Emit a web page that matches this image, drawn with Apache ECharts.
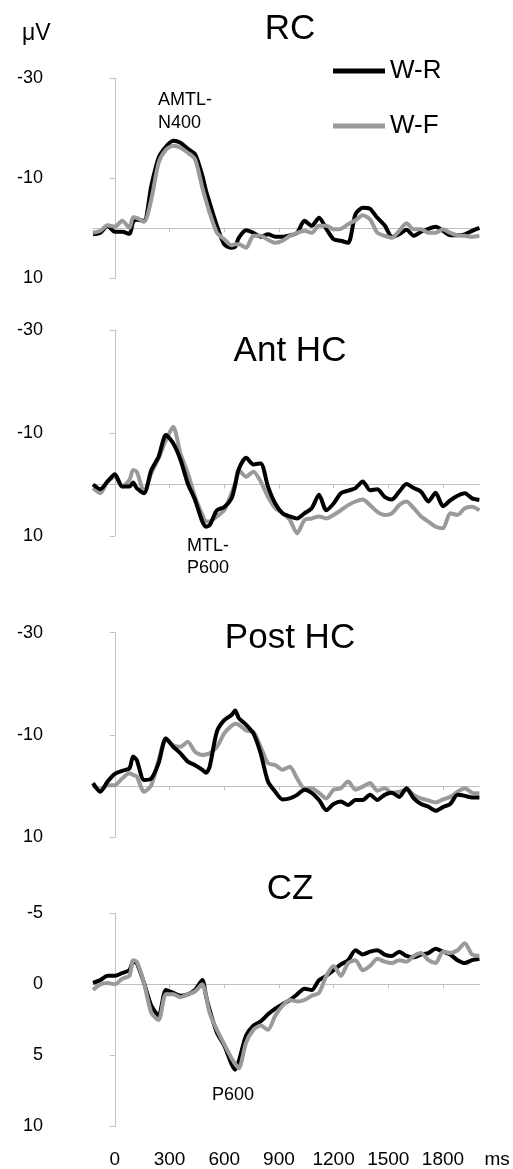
<!DOCTYPE html>
<html><head><meta charset="utf-8">
<script src="https://cdn.jsdelivr.net/npm/echarts@6/dist/echarts.min.js"></script>
<style>html,body{margin:0;padding:0;background:#fff}#c{width:513px;height:1169px}</style>
</head><body><div id="c"></div>
<script>
// ---- data ----
const times = [-120,-80,-40,0,40,80,100,120,160,200,240,280,320,360,400,440,480,500,520,560,600,640,660,680,720,760,800,840,880,920,960,1000,1040,1080,1120,1160,1200,1240,1280,1320,1360,1400,1440,1480,1520,1560,1600,1640,1680,1720,1760,1800,1840,1880,1920,1960,2000];
const seriesNames = ['W-R', 'W-F'];
const panelTitles = ['RC', 'Ant HC', 'Post HC', 'CZ'];

const rcWR = [1.2,0.9,-0.5,0.7, 0.7,1.1,-1.3,-1.7,-1.5,-8.5,-14.1,-16.3,-17.5,-17.1,-15.9, -14.8,-10.5,-7.5,-5.1,-0.5,3.2,3.9,3.7,1.9,0.4,0.9,1.7, 1.2,1.7,1.7,1.4,0.9,-1.5,-0.5,-2.1,0.1,2.2, 2.5,2.9,-2.8,-4.1,-3.9,-2.1,-0.6,1.7,1.2,0.3, 1.5,0.7,0.1,-0.3,0.5,1.4,1.4,1.2,0.5,-0.1];
const rcWF = [0.9,0.5,-0.6,-0.3, -1.5,-0.1,-2.2,-2.1,-1.3,-5.8,-13.1,-15.7,-16.5,-16.1,-15.1, -13.8,-8.1,-5.5,-3.1,0.9,2.2,3.4,3.2,3.2,3.9,1.5,1.5, 2.3,2.9,2.5,1.5,0.9,0.5,0.9,-0.5,-0.5,0.2, 0.1,-0.8,-1.6,-2.6,-1.8,0.9,1.5,1.9,0.5,-1.0, 0.2,0.2,0.9,0.9,0.2,0.9,1.4,1.5,1.7,1.5];

const antWR = [0,0.9,-0.6,-2.0, 0.4,0.4,-0.4,0.7,1.7,-2.8,-5.4,-9.6,-8.0,-4.8,-0.2, 3.0,7.2,8.2,7.9,5.0,4.4,2.7,0.1,-3.0,-5.2,-3.9,-4.1, 0.4,3.7,5.6,6.2,6.6,5.6,4.6,2.0,5.0,3.7, 1.7,1.2,0.7,-0.6,1.1,0.9,2.4,2.9,1.4,-0.1, 0.7,1.4,3.3,1.6,4.2,3.1,2.2,1.7,2.7,3.0];
const antWF = [0.7,1.7,-0.6,-1.5, 0.4,-0.9,-2.8,-2.5,1.4,-2.2,-5.1,-8.6,-11.2,-6.0,-2.2, 2.4,5.9,7.2,7.2,6.2,5.0,1.7,-0.2,-2.8,-1.5,-2.5,-0.6, 2.4,4.6,5.6,6.9,9.5,6.9,6.6,6.2,6.6,5.9, 5.0,4.0,3.3,2.9,4.0,5.3,5.9,5.6,4.0,3.3, 4.6,6.2,7.2,8.2,8.5,5.6,5.9,4.6,4.3,5.0];

const postWR = [-0.6,1.1,-0.9,-2.4, -3.0,-3.5,-5.8,-5.1,-1.2,-1.5,-4.5,-9.3,-7.7,-6.4,-4.8, -4.1,-3.2,-2.6,-3.8,-10.7,-12.9,-13.9,-14.8,-13.3,-12.0,-10.3,-6.4, -0.9,1.1,2.6,2.4,1.7,0.7,1.3,2.7,4.7,3.5, 3.0,3.7,2.7,2.7,1.7,2.7,1.7,1.3,2.1,0.4, 2.4,3.5,4.0,4.8,4.1,3.5,1.7,1.9,2.2,2.2];
const postWF = [-0.2,0.7,-0.2,-0.2, -1.5,-2.5,-2.2,-1.9,1.1,-0.2,-5.1,-9.3,-8.0,-7.7,-8.7, -6.7,-6.1,-6.2,-6.4,-7.7,-10.3,-11.8,-12.2,-12.0,-10.9,-10.6,-7.7, -4.5,-4.1,-3.2,-3.8,-1.5,0.4,0.4,1.3,2.4,0.7, 0.4,-0.9,0.7,0.1,-0.6,0.9,0.4,1.3,1.1,0.7, 1.7,2.4,2.8,3.2,2.6,2.1,1.1,0.4,1.3,1.4];

const czWR = [-0.1,-0.3,-0.6,-0.6, -0.8,-1.0,-1.6,-1.5,-0.1,1.5,2.2,0.4,0.6,0.8,0.7, 0.4,-0.3,0.8,1.8,3.4,4.3,5.6,6.0,5.4,3.6,2.9,2.6, 2.1,1.7,1.4,1.1,0.7,0.3,0.4,-0.3,-0.6,-1.0, -1.4,-1.7,-2.4,-2.1,-2.3,-2.4,-2.1,-2.0,-2.3,-2.0, -1.9,-2.1,-2.2,-2.5,-2.3,-2.1,-1.7,-1.5,-1.7,-1.8];
const czWF = [0.4,0,-0.1,0, -0.4,-0.6,-1.7,-1.6,-0.1,2.0,2.5,0.7,0.7,0.9,0.7, 0.5,0.0,0.8,2.0,3.2,4.2,5.2,5.6,5.9,4.1,3.2,2.9, 3.2,2.2,1.5,1.1,1.2,1.1,0.8,0.6,-0.6,-1.3, -0.6,-1.5,-1.7,-1.0,-1.3,-1.8,-1.6,-1.5,-1.7,-1.6, -2.0,-2.2,-1.7,-1.5,-2.3,-2.2,-2.4,-2.9,-2.1,-2.0];

const yTicksMTL = [-30, -10, 10];
const yTicksCZ = [-5, 0, 5, 10];
const xTicks = [0, 300, 600, 900, 1200, 1500, 1800];

// ---- layout ----
const FONT = 'Liberation Sans, Arial, sans-serif';
const BLACK = '#000000', GRAY = '#9a9a9a', AXIS = '#c0c0c0';
const panels = [
  {wr: rcWR, wf: rcWF, min: -30, max: 10, ticks: yTicksMTL, top: 78.3, height: 200, grayTop: true, titleY: 29},
  {wr: antWR, wf: antWF, min: -30, max: 10, ticks: yTicksMTL, top: 330, height: 206, grayTop: false, titleY: 351},
  {wr: postWR, wf: postWF, min: -30, max: 10, ticks: yTicksMTL, top: 632.7, height: 204.6, grayTop: false, titleY: 638},
  {wr: czWR, wf: czWF, min: -5, max: 10, ticks: yTicksCZ, top: 913.3, height: 214, grayTop: true, titleY: 889.5}
];

const grid = [], xAxis = [], yAxis = [], series = [], graphic = [];
panels.forEach((p, i) => {
  grid.push({left: 93, right: 33.6, top: p.top, height: p.height});
  xAxis.push({
    type: 'value', gridIndex: i, min: -120, max: 2000,
    axisLine: {show: true, onZero: true, lineStyle: {color: AXIS, width: 1}},
    axisTick: {show: true, customValues: xTicks, length: 4, lineStyle: {color: AXIS, width: 1}},
    axisLabel: {show: false}, splitLine: {show: false}
  });
  yAxis.push({
    type: 'value', gridIndex: i, inverse: true, min: p.min, max: p.max,
    axisLine: {show: true, onZero: true, lineStyle: {color: AXIS, width: 1}},
    axisTick: {show: true, customValues: p.ticks, length: 5, lineStyle: {color: AXIS, width: 1}},
    axisLabel: {show: false}, splitLine: {show: false}
  });
  yAxis.push({
    type: 'value', gridIndex: i, inverse: true, min: p.min, max: p.max, position: 'left',
    axisLine: {show: false, onZero: false}, axisTick: {show: false},
    axisLabel: {show: true, customValues: p.ticks, margin: 50, fontSize: 18, color: BLACK, fontFamily: FONT,
      formatter: v => String(v)},
    splitLine: {show: false}
  });
  const mk = (name, arr, color, z) => ({
    type: 'line', name, xAxisIndex: i, yAxisIndex: 2 * i,
    data: times.map((t, k) => [t, arr[k]]),
    showSymbol: false, symbol: 'none', smooth: 0.25, z,
    lineStyle: {width: 4, color}, itemStyle: {color}
  });
  const sWR = mk(seriesNames[0], p.wr, BLACK, p.grayTop ? 2 : 3);
  const sWF = mk(seriesNames[1], p.wf, GRAY, p.grayTop ? 3 : 2);
  series.push(sWR, sWF);
  graphic.push({type: 'text', x: 290, y: p.titleY, style: {text: panelTitles[i], font: '35px ' + FONT, fill: BLACK, align: 'center', verticalAlign: 'middle'}});
});
xAxis.push({
  type: 'value', gridIndex: 3, min: -120, max: 2000, position: 'bottom', offset: 33,
  axisLine: {show: false, onZero: false}, axisTick: {show: false}, splitLine: {show: false},
  axisLabel: {show: true, customValues: xTicks, margin: 0, verticalAlign: 'middle', fontSize: 19, color: BLACK, fontFamily: FONT,
    formatter: v => String(v)},
  name: 'ms', nameLocation: 'end', nameGap: 5,
  nameTextStyle: {fontSize: 19, color: BLACK, fontFamily: FONT, verticalAlign: 'middle'}
});

graphic.push(
  {type: 'text', x: 22, y: 34, style: {text: 'μV', font: '23px ' + FONT, fill: BLACK, verticalAlign: 'middle'}},
  {type: 'text', x: 158, y: 88, style: {text: 'AMTL-\nN400', font: '18px ' + FONT, lineHeight: 23.6, fill: BLACK}},
  {type: 'text', x: 187, y: 535.7, style: {text: 'MTL-\nP600', font: '18px ' + FONT, lineHeight: 21.6, fill: BLACK}},
  {type: 'text', x: 212, y: 1095, style: {text: 'P600', font: '18px ' + FONT, fill: BLACK, verticalAlign: 'middle'}}
);

const legendBase = {orient: 'vertical', left: 333, padding: 0, icon: 'rect', itemWidth: 52, itemHeight: 5,
  textStyle: {fontSize: 26, color: BLACK, fontFamily: FONT}, selectedMode: false};

const chart = echarts.init(document.getElementById('c'));
chart.setOption({
  animation: false,
  backgroundColor: '#ffffff',
  legend: [
    Object.assign({}, legendBase, {top: 58, data: [seriesNames[0]]}),
    Object.assign({}, legendBase, {top: 113, data: [seriesNames[1]]})
  ],
  grid, xAxis, yAxis, series, graphic
});
</script>
</body></html>
